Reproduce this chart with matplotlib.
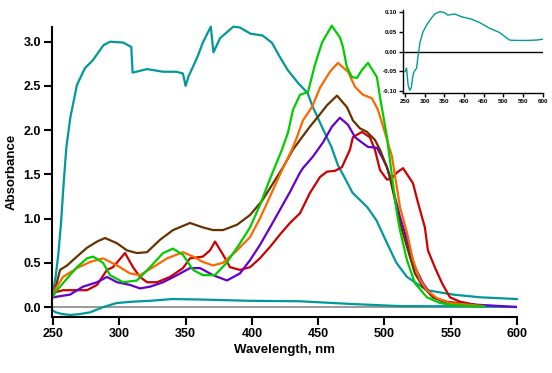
import matplotlib
matplotlib.use("Agg")
import matplotlib.pyplot as plt

plt.rcParams['font.family'] = ['Liberation Sans', 'DejaVu Sans']
plt.rcParams['font.weight'] = 'bold'

# big teal spectrum
teal_wl = [250, 252, 254, 256, 258, 260, 263, 268, 274, 280, 288, 293, 303, 309, 310,
           321, 333, 343, 348, 350, 352, 359, 363, 369, 371, 376, 386, 391, 399, 408,
           415, 421, 427, 435, 442, 446, 454, 460, 465, 469, 476, 487, 494, 502, 509,
           517, 532, 552, 572, 600]
teal_abs = [0.18, 0.35, 0.6, 0.95, 1.4, 1.8, 2.14, 2.51, 2.7, 2.79, 2.96, 3.0, 2.99, 2.94, 2.65,
            2.69, 2.66, 2.66, 2.64, 2.5, 2.6, 2.83, 2.99, 3.17, 2.88, 3.04, 3.17, 3.16, 3.09, 3.07,
            2.99, 2.83, 2.68, 2.53, 2.42, 2.26, 2.0, 1.81, 1.6, 1.49, 1.29, 1.13, 0.98, 0.72, 0.5,
            0.34, 0.19, 0.14, 0.11, 0.09]

# small teal spectrum (same as inset)
low_wl = [250, 252, 257, 263, 270, 278, 288, 298, 310, 323, 340, 360, 399, 436, 474, 512, 562, 600]
low_abs = [-0.04, -0.06, -0.08, -0.09, -0.08, -0.06, 0.0, 0.045, 0.06, 0.07, 0.09, 0.085, 0.07,
           0.065, 0.035, 0.01, 0.008, 0.0]

green_wl = [250, 251.5, 257.5, 268, 275.6, 280.2, 287.7, 293, 302.8, 313.3, 323.2, 333, 340.5,
            348, 355.6, 363, 372, 381, 391, 398.6, 406, 413.7, 422.7, 427.2, 431, 436.3, 442.3,
            447.6, 452.9, 460.2, 466.4, 468.7, 471.7, 475.5, 479.3, 483, 487.6, 494.3, 496.6,
            501.9, 506.4, 509.4, 511.7, 517, 523, 532, 542, 552, 575]
green_abs = [0.12, 0.16, 0.27, 0.45, 0.55, 0.57, 0.5, 0.36, 0.28, 0.3, 0.45, 0.61, 0.66,
             0.59, 0.42, 0.36, 0.36, 0.5, 0.72, 0.9, 1.15, 1.45, 1.78, 1.97, 2.23, 2.4, 2.43,
             2.74, 2.99, 3.18, 3.05, 2.94, 2.71, 2.6, 2.59, 2.68, 2.76, 2.6, 2.38,
             1.92, 1.4, 1.06, 0.87, 0.53, 0.27, 0.11, 0.045, 0.02, 0.005]

orange_wl = [250, 257.5, 268, 278, 287.7, 298.3, 308, 315.6, 325.4, 336, 348, 355.6, 363, 370.7,
             378.2, 388.8, 398.6, 406, 413.7, 421.2, 430.2, 434, 438.5, 445.3, 451.4, 458.9, 464.9,
             472.5, 477.8, 483.8, 490.6, 495.1, 500.4, 505.7, 511.7, 517, 521.5, 526.8, 532,
             539.6, 549.4, 575]
orange_abs = [0.16, 0.34, 0.44, 0.51, 0.55, 0.47, 0.38, 0.36, 0.45, 0.55, 0.62, 0.57, 0.51, 0.47,
              0.5, 0.64, 0.79, 1.0, 1.25, 1.5, 1.78, 1.92, 2.11, 2.26, 2.48, 2.66, 2.76,
              2.66, 2.49, 2.4, 2.36, 2.23, 1.97, 1.7, 1.13, 0.84, 0.53, 0.31, 0.19,
              0.1, 0.045, 0.01]

brown_wl = [250, 255.3, 260.6, 268, 275.6, 283.2, 289.2, 298.3, 305.8, 313.3, 320.9, 330.7, 340.5,
            353.3, 363, 370.7, 378.2, 388.8, 398.6, 407.6, 415.2, 423.5, 431, 437.8, 443.8, 449.8,
            456.6, 464.2, 471.7, 476.2, 481.5, 486.8, 492.8, 496.6, 501.9, 504.1, 511.7, 517, 523,
            529, 536.6, 547, 575]
brown_abs = [0.11, 0.42, 0.47, 0.57, 0.67, 0.74, 0.78, 0.72, 0.64, 0.61, 0.62, 0.76, 0.87,
             0.95, 0.9, 0.87, 0.87, 0.93, 1.04, 1.2, 1.38, 1.58, 1.78, 1.92, 2.04, 2.15,
             2.28, 2.39, 2.26, 2.11, 2.02, 1.98, 1.89, 1.78, 1.58, 1.47, 0.95, 0.68, 0.38,
             0.23, 0.11, 0.06, 0.01]

purple_wl = [250, 262.8, 272.6, 283.2, 290.7, 298.3, 308, 315.6, 323.2, 333, 343.5, 353.3, 360.9,
             370.7, 381.2, 391, 398.6, 406, 413.7, 421.2, 428.7, 436.3, 438.5, 446, 449.8, 453.6,
             460.4, 466.4, 472.5, 477.8, 483, 487.6, 494.3, 498, 501.9, 504.1, 511.7, 517, 523,
             529, 536.6, 547, 600]
purple_abs = [0.11, 0.14, 0.23, 0.28, 0.34, 0.28, 0.25, 0.21, 0.23, 0.28, 0.36, 0.44, 0.44,
              0.36, 0.3, 0.38, 0.53, 0.7, 0.9, 1.1, 1.3, 1.52, 1.57, 1.7, 1.78, 1.86,
              2.04, 2.14, 2.06, 1.92, 1.86, 1.81, 1.8, 1.7, 1.58, 1.47, 1.02, 0.76, 0.45,
              0.27, 0.11, 0.045, 0.0]

red_wl = [250, 257.5, 275.6, 283.2, 290.7, 295.2, 304.3, 310.3, 315.6, 320.9, 328.4, 338.2, 348,
          353.3, 363, 368.4, 372.2, 377.5, 383.5, 391, 398.6, 406, 413.7, 421.2, 428.7, 436.3,
          443.8, 451.4, 456.6, 462.7, 467.9, 474, 476.2, 483, 489, 492.8, 496.6, 501.9, 505.7,
          509.4, 514, 521.5, 525.3, 530.5, 532.8, 538, 543.4, 549.4, 557, 567, 570]
red_abs = [0.16, 0.19, 0.19, 0.25, 0.42, 0.45, 0.61, 0.45, 0.34, 0.28, 0.28, 0.34, 0.44,
           0.55, 0.57, 0.64, 0.74, 0.61, 0.45, 0.42, 0.45, 0.55, 0.68, 0.82, 0.95, 1.06,
           1.29, 1.47, 1.53, 1.54, 1.58, 1.78, 1.92, 1.98, 1.92, 1.78, 1.55, 1.44, 1.46,
           1.52, 1.57, 1.4, 1.18, 0.9, 0.64, 0.45, 0.27, 0.11, 0.06, 0.03, 0.02]

# inset difference spectrum
inset_wl = [250, 254, 258, 262, 266, 269.5, 272.8, 279.6, 283, 288, 295.6, 305, 317.6, 326,
            338.6, 351.3, 358.9, 376.6, 393.5, 418.9, 440, 465, 490.5, 515.8, 530, 560, 585, 600]
inset_val = [-0.051, -0.042, -0.085, -0.098, -0.092, -0.065, -0.052, -0.042, -0.014, 0.022,
             0.049, 0.067, 0.085, 0.095, 0.101, 0.098, 0.092, 0.095, 0.088, 0.082, 0.073,
             0.059, 0.048, 0.029, 0.028, 0.028, 0.029, 0.031]

TEAL = '#009999'

fig = plt.figure(figsize=(5.52, 3.73), dpi=100)
ax = fig.add_axes([52 / 552, 56 / 373, 465 / 552, 290 / 373])

ax.axhline(0, color='#888888', lw=1.2, zorder=1)
ax.plot(teal_wl, teal_abs, color=TEAL, lw=1.6, clip_on=False)
ax.plot(low_wl, low_abs, color=TEAL, lw=1.6)
ax.plot(red_wl, red_abs, color='#CC0000', lw=1.6)
ax.plot(purple_wl, purple_abs, color='#6600CC', lw=1.6)
ax.plot(brown_wl, brown_abs, color='#663300', lw=1.6)
ax.plot(orange_wl, orange_abs, color='#FF6600', lw=1.6)
ax.plot(green_wl, green_abs, color='#00CC00', lw=1.6, clip_on=False)

ax.set_xlim(249.2, 600)
ax.set_ylim(-0.113, 3.166)
ax.set_xticks(range(250, 601, 50))
ax.set_yticks([0.0, 0.5, 1.0, 1.5, 2.0, 2.5, 3.0])
ax.set_yticklabels(['0.0', '0.5', '1.0', '1.5', '2.0', '2.5', '3.0'])
for s in ['top', 'right']:
    ax.spines[s].set_visible(False)
for s in ['left', 'bottom']:
    ax.spines[s].set_linewidth(1.5)
ax.tick_params(direction='out', length=6, width=1.5, labelsize=9, pad=2)
ax.set_xlabel('Wavelength, nm', fontsize=9.5, fontweight='bold', labelpad=3)
ax.set_ylabel('Absorbance', fontsize=9.5, fontweight='bold', labelpad=4)

# inset
ins = fig.add_axes([403 / 552, 280 / 373, 140 / 552, 83 / 373])
ins.axhline(0, color='black', lw=1.0)
ins.plot(inset_wl, inset_val, color=TEAL, lw=1.0)
ins.set_xlim(245, 601)
ins.set_ylim(-0.105, 0.105)
ins.set_xticks(range(250, 601, 50))
ins.set_yticks([-0.10, -0.05, 0.0, 0.05, 0.10])
ins.set_yticklabels(['-0.10', '-0.05', '0.00', '0.05', '0.10'])
ins.patch.set_alpha(0)
for s in ['top', 'right']:
    ins.spines[s].set_visible(False)
for s in ['left', 'bottom']:
    ins.spines[s].set_linewidth(1.0)
ins.tick_params(direction='out', length=3, width=1.0, labelsize=4.5, pad=1.5)

fig.savefig('out.png', dpi=100)
